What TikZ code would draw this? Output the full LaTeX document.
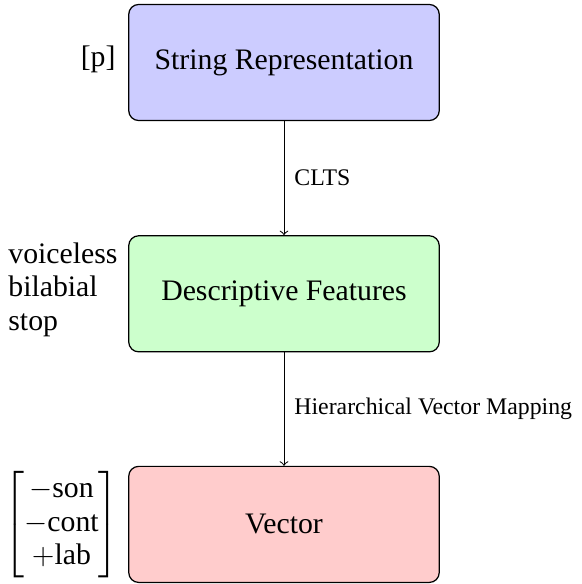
\documentclass[tikz,border=0pt]{standalone}
\usepackage{amsmath}
\usepackage{fontspec}
\setmainfont{Liberation Serif}
\tikzset{
  stagebox/.style={draw=black, line width=0.5pt, rounded corners=4pt,
    minimum width=125.2pt, minimum height=46.8pt, inner sep=0pt,
    font=\fontsize{12}{14.4}\selectfont},
  sidetext/.style={inner sep=0pt, font=\fontsize{12}{13.5}\selectfont},
  edgelabel/.style={inner sep=0pt, anchor=west, xshift=4pt,
    font=\fontsize{9.6}{11.5}\selectfont},
  flow/.style={->, line width=0.4pt, draw=black}
}
\begin{document}
\begin{tikzpicture}[x=0.4032pt, y=-0.4032pt]
\useasboundingbox (0,0) rectangle (582,584);
\node[stagebox, fill=blue!20] (s) at (284,62.5) {String Representation};
\node[stagebox, fill=green!20] (d) at (284,293.8) {Descriptive Features};
\node[stagebox, fill=red!20] (v) at (284,524.4) {Vector};
\draw[flow] (s) -- (d) node[midway, edgelabel] (l1) {CLTS};
\draw[flow] (d) -- (v) node[midway, edgelabel] (l2) {Hierarchical Vector Mapping};
\node[sidetext, anchor=base east] (p) at (116,66.7) {[p]};
\node[sidetext, anchor=east, align=left] (f) at (118,289.6) {voiceless\\bilabial\\stop};
\node[sidetext, anchor=east] (m) at (119,524.7)
  {$\begin{bmatrix}-\text{son}\\-\text{cont}\\+\text{lab}\end{bmatrix}$};
\end{tikzpicture}
\end{document}
